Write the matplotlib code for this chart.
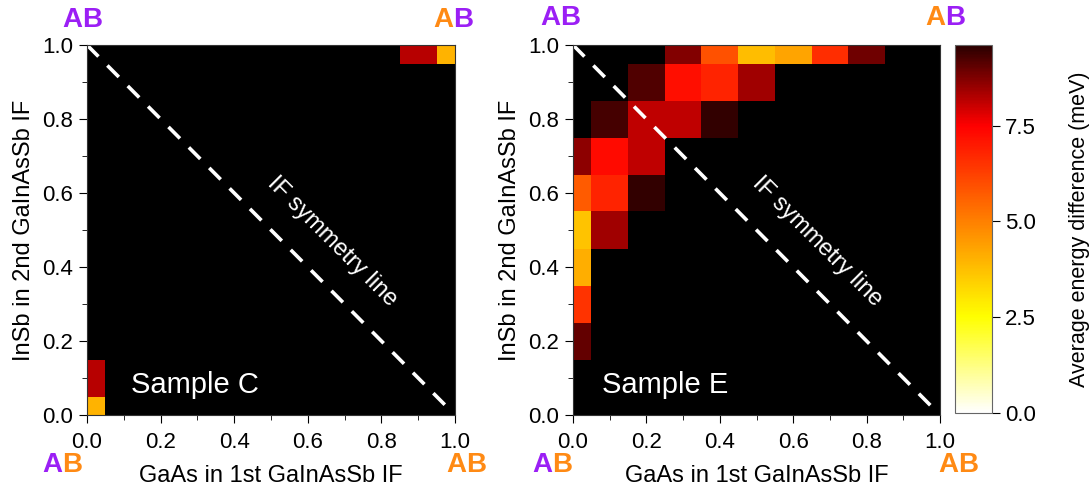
import numpy as np
import matplotlib.pyplot as plt
from matplotlib.colors import LinearSegmentedColormap

plt.rcParams['font.family'] = ['Liberation Sans', 'DejaVu Sans']

# grid of interface compositions (cell centres)
gaas = [0.0, 0.1, 0.2, 0.3, 0.4, 0.5, 0.6, 0.7, 0.8, 0.9, 1.0]
insb = [0.0, 0.1, 0.2, 0.3, 0.4, 0.5, 0.6, 0.7, 0.8, 0.9, 1.0]
cell_edges = [0.0, 0.05, 0.15, 0.25, 0.35, 0.45, 0.55, 0.65, 0.75, 0.85, 0.95, 1.0]

# Sample C: (gaas, insb, value in meV)
sample_c = [(0.0, 0.0, 4.0), (0.0, 0.1, 8.2), (0.9, 1.0, 8.2), (1.0, 1.0, 4.0)]

# Sample E
sample_e = [
    (0.3, 1.0, 8.7), (0.4, 1.0, 5.9), (0.5, 1.0, 3.8), (0.6, 1.0, 4.3), (0.7, 1.0, 6.6), (0.8, 1.0, 8.9),
    (0.2, 0.9, 9.2), (0.3, 0.9, 7.2), (0.4, 0.9, 6.8), (0.5, 0.9, 8.4),
    (0.1, 0.8, 9.3), (0.2, 0.8, 8.1), (0.3, 0.8, 8.1), (0.4, 0.8, 9.5),
    (0.0, 0.7, 8.6), (0.1, 0.7, 7.3), (0.2, 0.7, 8.1),
    (0.0, 0.6, 5.7), (0.1, 0.6, 6.8), (0.2, 0.6, 9.5),
    (0.0, 0.5, 3.7), (0.1, 0.5, 8.4),
    (0.0, 0.4, 4.1),
    (0.0, 0.3, 6.5),
    (0.0, 0.2, 9.0),
]

vmax = 9.6
cmap = LinearSegmentedColormap.from_list('ab', [
    (0.0, '#ffffff'), (2.5 / vmax, '#ffff00'), (5.0 / vmax, '#ff8000'),
    (7.5 / vmax, '#ff0000'), (1.0, '#2a0000')])

PURPLE = '#9b1ff5'
ORANGE = '#ff8a14'


def to_grid(cells):
    z = np.full((len(insb), len(gaas)), np.nan)
    for gx, iy, v in cells:
        z[insb.index(iy), gaas.index(gx)] = v
    return z


def ab(fig, x, y, ca, cb):
    # x, y in pixels from top-left
    fx, fy = x / 1089, 1 - y / 487
    fig.text(fx, fy, 'A', color=ca, fontsize=20, fontweight='bold', ha='right', va='center')
    fig.text(fx, fy, 'B', color=cb, fontsize=20, fontweight='bold', ha='left', va='center')


fig = plt.figure(figsize=(10.89, 4.87), dpi=100)
ax1 = fig.add_axes([87 / 1089, 72 / 487, 368 / 1089, 370 / 487])
ax2 = fig.add_axes([573 / 1089, 72 / 487, 367 / 1089, 370 / 487])
cax = fig.add_axes([955 / 1089, 74 / 487, 37 / 1089, 368 / 487])

for ax, cells, name, tx in [(ax1, sample_c, 'Sample C', 0.12), (ax2, sample_e, 'Sample E', 0.08)]:
    ax.set_facecolor('black')
    mesh = ax.pcolormesh(cell_edges, cell_edges, to_grid(cells), cmap=cmap, vmin=0, vmax=vmax)
    ax.plot([0, 0.98], [1, 0.02], color='white', lw=2.6, dashes=(4.5, 3.5))
    ax.text(0.665, 0.47, 'IF symmetry line', color='white', fontsize=17, rotation=-45,
            ha='center', va='center', rotation_mode='anchor')
    ax.text(tx, 0.08, name, color='white', fontsize=21, ha='left', va='center')
    ax.set_xlim(0, 1)
    ax.set_ylim(0, 1)
    ax.set_xticks(np.arange(0, 1.01, 0.2))
    ax.set_yticks(np.arange(0, 1.01, 0.2))
    ax.set_xticks(np.arange(0.1, 1.0, 0.2), minor=True)
    ax.set_yticks(np.arange(0.1, 1.0, 0.2), minor=True)
    ax.xaxis.set_major_formatter(plt.FormatStrFormatter('%.1f'))
    ax.yaxis.set_major_formatter(plt.FormatStrFormatter('%.1f'))
    ax.tick_params(which='both', direction='out', labelsize=16, top=False, right=False)
    ax.tick_params(which='major', length=6)
    ax.tick_params(which='minor', length=3.5)
    ax.tick_params(axis='x', pad=6)
    ax.tick_params(axis='y', pad=4)
    ax.set_xlabel('GaAs in 1st GaInAsSb IF', fontsize=17, labelpad=9)
    ax.set_ylabel('InSb in 2nd GaInAsSb IF', fontsize=17, labelpad=5)
    for s in ax.spines.values():
        s.set_color('#333333')

cb = fig.colorbar(mesh, cax=cax, ticks=[0, 2.5, 5.0, 7.5])
cb.ax.yaxis.set_major_formatter(plt.FormatStrFormatter('%.1f'))
cb.ax.tick_params(labelsize=16, length=6)
cb.outline.set_edgecolor('#666666')
cb.set_label('Average energy difference (meV)', fontsize=15.5, labelpad=24)

# A/B termination markers at the corners
ab(fig, 82, 20, PURPLE, PURPLE)
ab(fig, 453, 20, ORANGE, PURPLE)
ab(fig, 62, 465, PURPLE, ORANGE)
ab(fig, 466, 465, ORANGE, ORANGE)
ab(fig, 560, 18, PURPLE, PURPLE)
ab(fig, 945, 18, ORANGE, PURPLE)
ab(fig, 552, 465, PURPLE, ORANGE)
ab(fig, 958, 465, ORANGE, ORANGE)

fig.savefig('out.png', dpi=100)
